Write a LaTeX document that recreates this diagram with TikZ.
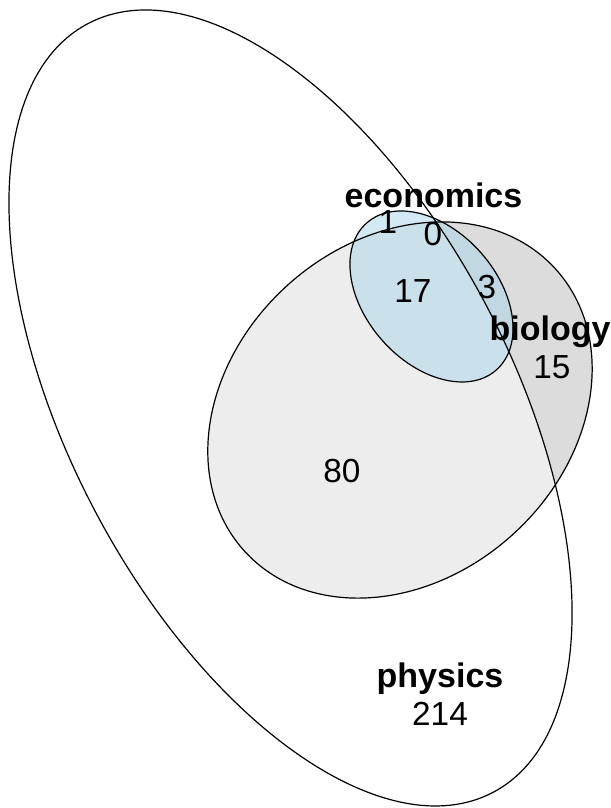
\documentclass[tikz,border=0pt]{standalone}
\usepackage{fontspec}
\setmainfont{Liberation Sans}
\definecolor{econblue}{RGB}{168,212,232}
\definecolor{biogray}{RGB}{220,220,220}
\begin{document}
\begin{tikzpicture}[x=0.75pt, y=0.75pt,
        setline/.style={line width=0.9pt, black},
        setname/.style={font=\fontsize{25.5}{30}\selectfont\bfseries, anchor=base},
        setcount/.style={font=\fontsize{25}{30}\selectfont, anchor=base}]
        \useasboundingbox (0,0) rectangle (611,-808);

        % Srodki elips
        \coordinate (phys) at (290.5,-408);
        \coordinate (bio) at (400,-410);
        \coordinate (econ) at (431.5,-296.5);

        % Wypelnienia
        \fill[biogray, rotate around={42.2:(bio)}] (bio) ellipse [x radius=210, y radius=168];
        \fill[white, opacity=0.5, rotate around={-62.2:(phys)}] (phys) ellipse [x radius=434.5, y radius=221];
        \fill[econblue, opacity=0.5, rotate around={-48.6:(econ)}] (econ) ellipse [x radius=98, y radius=66];

        % Kontury
        \draw[setline, rotate around={42.2:(bio)}] (bio) ellipse [x radius=210, y radius=168];
        \draw[setline, rotate around={-62.2:(phys)}] (phys) ellipse [x radius=434.5, y radius=221];
        \draw[setline, rotate around={-48.6:(econ)}] (econ) ellipse [x radius=98, y radius=66];

        % Nazwy zbiorow
        \node[setname] (econname) at (433.5,-207) {economics};
        \node[setname] (bioname) at (550,-340) {biology};
        \node[setname] (physname) at (440,-687) {physics};

        % Liczebnosci
        \node[setcount] (econonly) at (388,-233) {1};
        \node[setcount] (econphysbio) at (433,-245) {0};
        \node[setcount] (econphys) at (413,-302) {17};
        \node[setcount] (econbio) at (487,-298) {3};
        \node[setcount] (bioonly) at (552,-378) {15};
        \node[setcount] (physbio) at (342,-482) {80};
        \node[setcount] (physonly) at (440,-725) {214};
    \end{tikzpicture}
\end{document}
